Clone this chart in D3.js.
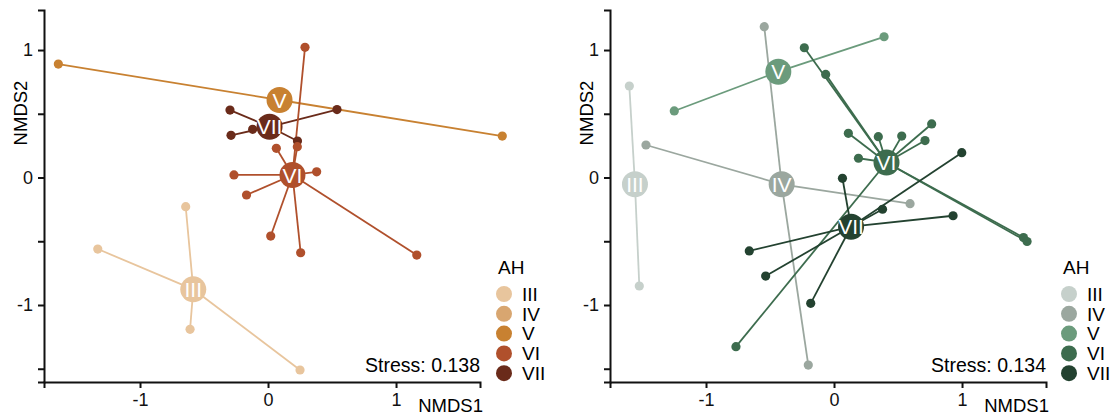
<!DOCTYPE html>
<html>
<head>
<meta charset="utf-8">
<script src="https://cdn.jsdelivr.net/npm/d3@7/dist/d3.min.js"></script>
<style>
  body { margin: 0; background: #fff; }
  text { font-family: "Liberation Sans", Arial, sans-serif; }
</style>
</head>
<body>
<svg id="chart" width="1115" height="415"></svg>
<script>
// groups (AH levels) and palettes
const levels = ['III', 'IV', 'V', 'VI', 'VII'];
const brownColors = ['#e8c59d', '#d8a670', '#c88131', '#b0502c', '#6a2b1a'];
const greenColors = ['#c6d0cb', '#9ba79f', '#6b9b7c', '#3d6c4e', '#234230'];

// left panel: [group, NMDS1, NMDS2]
const leftCentroids = [
  ['III', -0.584, -0.877], ['V', 0.09, 0.608], ['VI', 0.191, 0.02], ['VII', 0.012, 0.398]
];
const leftSites = [
  ['III', -0.643, -0.229], ['III', -1.330, -0.561], ['III', -0.609, -1.191], ['III', 0.25, -1.51],
  ['V', -1.638, 0.890], ['V', 1.830, 0.325],
  ['VII', -0.297, 0.529], ['VII', -0.289, 0.331], ['VII', -0.120, 0.378], ['VII', 0.539, 0.533], ['VII', 0.230, 0.286],
  ['VI', 0.289, 1.021], ['VI', 0.065, 0.229], ['VI', 0.229, 0.242], ['VI', 0.380, 0.045], ['VI', -0.266, 0.020],
  ['VI', -0.168, -0.137], ['VI', 0.021, -0.459], ['VI', 0.255, -0.590], ['VI', 1.162, -0.608]
];

// right panel
const rightCentroids = [
  ['III', -1.555, -0.053], ['IV', -0.409, -0.053], ['V', -0.435, 0.830], ['VI', 0.41, 0.118], ['VII', 0.133, -0.386]
];
const rightSites = [
  ['III', -1.599, 0.718], ['III', -1.521, -0.851],
  ['IV', -0.545, 1.183], ['IV', -1.469, 0.255], ['IV', 0.594, -0.205], ['IV', -0.201, -1.471],
  ['V', -1.248, 0.522], ['V', 0.391, 1.104],
  ['VI', -0.232, 1.018], ['VI', -0.065, 0.809], ['VI', 0.112, 0.347], ['VI', 0.346, 0.320], ['VI', 0.529, 0.325],
  ['VI', 0.763, 0.420], ['VI', 0.711, 0.290], ['VI', 0.191, 0.151], ['VI', 1.480, -0.471], ['VI', 1.508, -0.502],
  ['VI', -0.766, -1.327],
  ['VII', 0.066, -0.006], ['VII', 0.998, 0.195], ['VII', 0.930, -0.300], ['VII', 0.379, -0.249],
  ['VII', -0.662, -0.576], ['VII', -0.534, -0.773], ['VII', -0.182, -0.987]
];

const xTicks = [-1, 0, 1];
const yTicks = [-1.5, -1, -0.5, 0, 0.5, 1];
const xDomain = [-1.75, 1.656];
const yDomain = [-1.604, 1.314];

const svg = d3.select('#chart');

function drawPanel(left, centroids, sites, colors, stress, legendX) {
  const x = d3.scaleLinear().domain(xDomain).range([left, left + 436]);
  const y = d3.scaleLinear().domain(yDomain).range([382, 10]);
  const color = d3.scaleOrdinal().domain(levels).range(colors);
  const cen = new Map(centroids.map(d => [d[0], d]));

  const g = svg.append('g');

  // spider lines from centroid to each site
  g.selectAll('line.seg')
    .data(sites)
    .enter()
    .append('line')
    .attr('x1', d => x(cen.get(d[0])[1]))
    .attr('y1', d => y(cen.get(d[0])[2]))
    .attr('x2', d => x(d[1]))
    .attr('y2', d => y(d[2]))
    .attr('stroke', d => color(d[0]))
    .attr('stroke-width', 1.8);

  g.selectAll('circle.site')
    .data(sites)
    .enter()
    .append('circle')
    .attr('cx', d => x(d[1]))
    .attr('cy', d => y(d[2]))
    .attr('r', 4.6)
    .attr('fill', d => color(d[0]));

  g.selectAll('circle.cen')
    .data(centroids)
    .enter()
    .append('circle')
    .attr('cx', d => x(d[1]))
    .attr('cy', d => y(d[2]))
    .attr('r', 13)
    .attr('fill', d => color(d[0]));

  g.selectAll('text.cen')
    .data(centroids)
    .enter()
    .append('text')
    .attr('x', d => x(d[1]))
    .attr('y', d => y(d[2]))
    .attr('dy', '0.36em')
    .attr('text-anchor', 'middle')
    .attr('fill', '#fff')
    .style('font-size', '21px')
    .text(d => d[0]);

  // axes
  const xAxis = svg.append('g')
    .attr('transform', 'translate(0,382)')
    .call(d3.axisBottom(x).tickValues(xTicks).tickSizeOuter(0).tickSize(6).tickPadding(5));
  const yAxis = svg.append('g')
    .attr('transform', `translate(${left},0)`)
    .call(d3.axisLeft(y).tickValues(yTicks).tickSizeOuter(0).tickSize(6).tickPadding(5));
  [xAxis, yAxis].forEach(a => {
    a.selectAll('path, line').attr('stroke', '#111').attr('stroke-width', 2);
    a.selectAll('text').style('font-size', '18px').attr('fill', '#111');
  });
  // plain hyphen for negatives, labels only on whole numbers
  xAxis.selectAll('text').text(d => String(d));
  yAxis.selectAll('text').text(d => Number.isInteger(d) ? String(d) : '');

  svg.append('text')
    .attr('transform', `translate(${left - 17},113) rotate(-90)`)
    .attr('text-anchor', 'middle')
    .style('font-size', '18.5px')
    .text('NMDS2');

  svg.append('text')
    .attr('x', left + 439)
    .attr('y', 412)
    .attr('text-anchor', 'end')
    .style('font-size', '18.5px')
    .text('NMDS1');

  svg.append('text')
    .attr('x', left + 436)
    .attr('y', 372)
    .attr('text-anchor', 'end')
    .style('font-size', '19.5px')
    .text('Stress: ' + stress);

  // legend
  const lg = svg.append('g').attr('transform', `translate(${legendX},0)`);
  lg.append('text')
    .attr('x', -6)
    .attr('y', 274)
    .style('font-size', '19px')
    .text('AH');
  const items = lg.selectAll('g.item')
    .data(levels)
    .enter()
    .append('g')
    .attr('transform', (d, i) => `translate(0,${294 + i * 19.8})`);
  items.append('circle').attr('r', 8).attr('fill', d => color(d));
  items.append('text')
    .attr('x', 18)
    .attr('dy', '0.36em')
    .style('font-size', '19px')
    .text(d => d);
}

drawPanel(44, leftCentroids, leftSites, brownColors, '0.138', 504);
drawPanel(610, rightCentroids, rightSites, greenColors, '0.134', 1069);
</script>
</body>
</html>
